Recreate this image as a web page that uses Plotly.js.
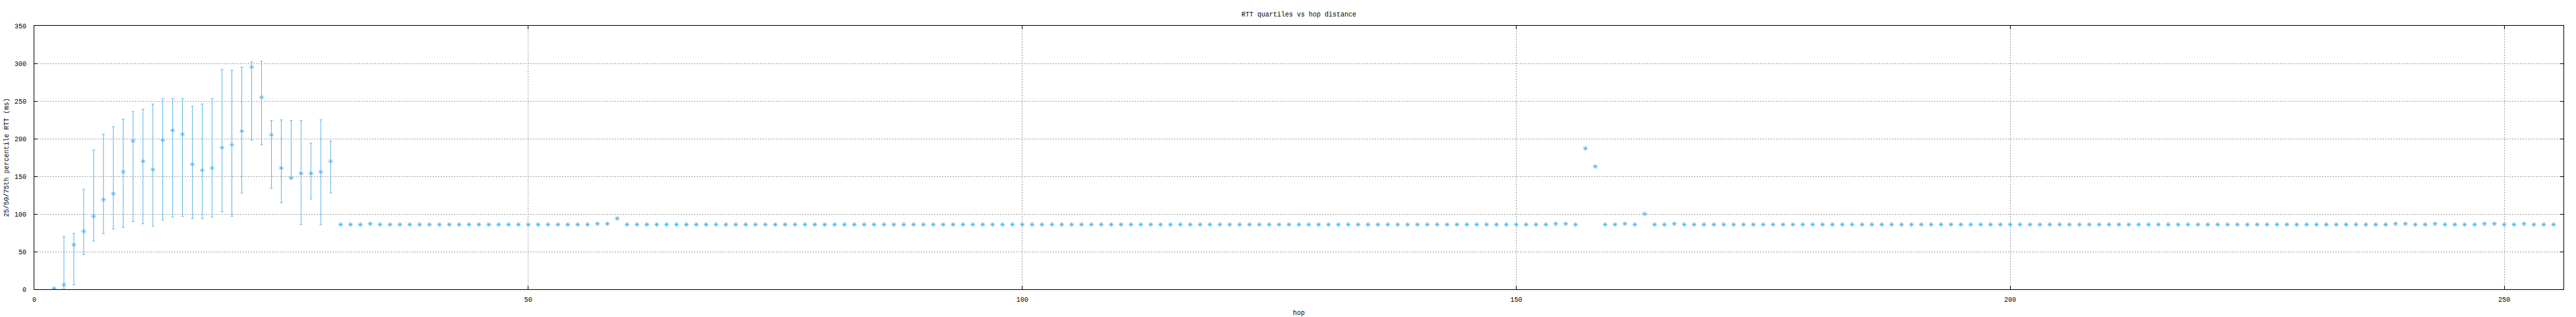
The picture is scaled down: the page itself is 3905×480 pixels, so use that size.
<!DOCTYPE html>
<html>
<head>
<meta charset="utf-8">
<script src="https://cdn.plot.ly/plotly-3.0.1.min.js"></script>
<style>
  html, body { margin: 0; padding: 0; background: #ffffff; }
  #chart { width: 3905px; height: 480px; }
</style>
</head>
<body>
<div id="chart"></div>
<script>
// ---- data ----
const hops = [
  2,3,4,5,6,7,8,9,10,
  11,12,13,14,15,16,17,18,19,20,
  21,22,23,24,25,26,27,28,29,30,
  31,32,33,34,35,36,37,38,39,40,
  41,42,43,44,45,46,47,48,49,50,
  51,52,53,54,55,56,57,58,59,60,
  61,62,63,64,65,66,67,68,69,70,
  71,72,73,74,75,76,77,78,79,80,
  81,82,83,84,85,86,87,88,89,90,
  91,92,93,94,95,96,97,98,99,100,
  101,102,103,104,105,106,107,108,109,110,
  111,112,113,114,115,116,117,118,119,120,
  121,122,123,124,125,126,127,128,129,130,
  131,132,133,134,135,136,137,138,139,140,
  141,142,143,144,145,146,147,148,149,150,
  151,152,153,154,155,156,157,158,159,160,
  161,162,163,164,165,166,167,168,169,170,
  171,172,173,174,175,176,177,178,179,180,
  181,182,183,184,185,186,187,188,189,190,
  191,192,193,194,195,196,197,198,199,200,
  201,202,203,204,205,206,207,208,209,210,
  211,212,213,214,215,216,217,218,219,220,
  221,222,223,224,225,226,227,228,229,230,
  231,232,233,234,235,236,237,238,239,240,
  241,242,243,244,245,246,247,248,249,250,
  251,252,253,254,255
];

// median RTT (ms) per hop
const medianRTT = [
  1,6,59,77,97,119,127,156,197,
  170,159,198,211,206,166,158,161,188,192,
  210,295,255,205,161,148,154,154,156,170,
  86,86,86,87,86,86,86,86,86,86,
  86,86,86,86,86,86,86,86,86,86,
  86,86,86,86,86,86,87,87,94,86,
  86,86,86,86,86,86,86,86,86,86,
  86,86,86,86,86,86,86,86,86,86,
  86,86,86,86,86,86,86,86,86,86,
  86,86,86,86,86,86,86,86,86,86,
  86,86,86,86,86,86,86,86,86,86,
  86,86,86,86,86,86,86,86,86,86,
  86,86,86,86,86,86,86,86,86,86,
  86,86,86,86,86,86,86,86,86,86,
  86,86,86,86,86,86,86,86,86,86,
  86,86,86,87,87,86,187,163,86,86,
  87,86,100,86,86,87,86,86,86,86,
  86,86,86,86,86,86,86,86,86,86,
  86,86,86,86,86,86,86,86,86,86,
  86,86,86,86,86,86,86,86,86,86,
  86,86,86,86,86,86,86,86,86,86,
  86,86,86,86,86,86,86,86,86,86,
  86,86,86,86,86,86,86,86,86,86,
  86,86,86,86,86,86,86,86,87,87,
  86,86,87,86,86,86,86,87,87,86,
  86,87,86,86,86
];

// 25th percentile for hops 2..30 (later hops: quartiles collapse onto the median)
const q1Early = [
  0,1,6,46,64,74,80,82,90,
  87,84,92,96,97,94,94,96,103,97,
  128,198,192,134,115,147,86,120,86,128
];
// 75th percentile for hops 2..30
const q3Early = [
  1,70,74,133,185,206,216,226,236,
  239,246,253,253,253,243,246,253,292,291,
  295,302,303,224,225,224,224,194,225,197
];

const titleText = 'RTT quartiles vs hop distance';
const xTitle = 'hop';
const yTitle = '25/50/75th percentile RTT (ms)';

// ---- build error arrays from the quartiles ----
const q1 = medianRTT.map((m, i) => (i < q1Early.length ? q1Early[i] : m));
const q3 = medianRTT.map((m, i) => (i < q3Early.length ? q3Early[i] : m));
const errPlus = q3.map((v, i) => Math.max(0, v - medianRTT[i]));
const errMinus = q1.map((v, i) => Math.max(0, medianRTT[i] - v));

const COLOR = '#56b4e9';
const FONT = 'Liberation Mono, DejaVu Sans Mono, monospace';

const trace = {
  type: 'scatter',
  mode: 'markers',
  x: hops,
  y: medianRTT,
  marker: {
    symbol: 'asterisk-open',
    size: 6,
    color: COLOR,
    line: { color: COLOR, width: 1 }
  },
  error_y: {
    type: 'data',
    symmetric: false,
    array: errPlus,
    arrayminus: errMinus,
    color: COLOR,
    thickness: 1,
    width: 2
  },
  hoverinfo: 'x+y',
  showlegend: false
};

const axisCommon = {
  showline: true,
  linecolor: '#000000',
  linewidth: 1,
  mirror: 'ticks',
  ticks: 'inside',
  ticklen: 5,
  tickwidth: 1,
  tickcolor: '#000000',
  showgrid: true,
  gridcolor: '#a0a0a0',
  gridwidth: 1,
  griddash: '2px,2px',
  zeroline: false,
  tickfont: { family: FONT, size: 10, color: '#000000' }
};

const layout = {
  width: 3905,
  height: 480,
  paper_bgcolor: '#ffffff',
  plot_bgcolor: '#ffffff',
  margin: { l: 52, r: 19, t: 39, b: 42, pad: 0 },
  title: {
    text: titleText,
    font: { family: FONT, size: 10, color: '#000000' },
    x: 0.5, xref: 'paper', xanchor: 'center',
    y: 1 - 21 / 480, yref: 'container', yanchor: 'middle'
  },
  xaxis: Object.assign({}, axisCommon, {
    range: [0, 256],
    tick0: 0,
    dtick: 50,
    ticklabelstandoff: 6,
    automargin: false,
    title: { text: xTitle, font: { family: FONT, size: 10, color: '#000000' }, standoff: 10 }
  }),
  yaxis: Object.assign({}, axisCommon, {
    range: [0, 350],
    tick0: 0,
    dtick: 50,
    ticklabelstandoff: 9,
    automargin: false,
    title: { text: yTitle, font: { family: FONT, size: 10, color: '#000000' }, standoff: 6 }
  })
};

Plotly.newPlot('chart', [trace], layout, { displayModeBar: false, staticPlot: true });
</script>
</body>
</html>
